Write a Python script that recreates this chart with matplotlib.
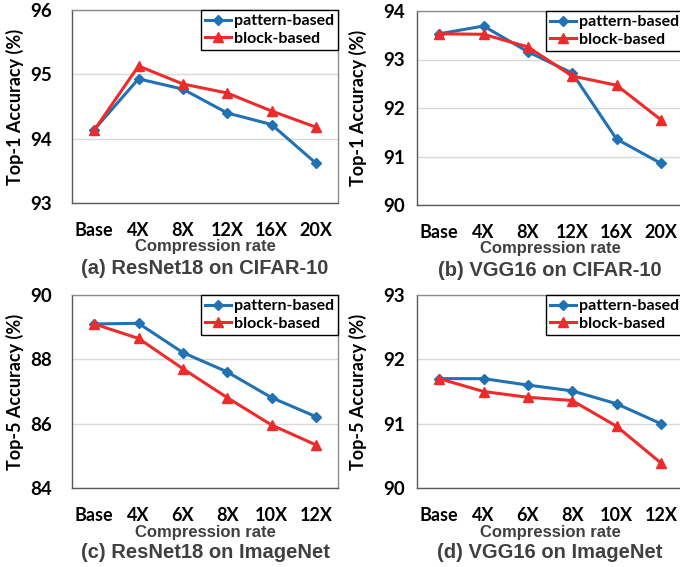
import matplotlib
matplotlib.use("Agg")
import matplotlib.pyplot as plt

W, H = 680, 567

# ---- data ----
cats_cifar = ["Base", "4X", "8X", "12X", "16X", "20X"]
cats_imnet = ["Base", "4X", "6X", "8X", "10X", "12X"]

resnet_cifar_pattern = [94.14, 94.93, 94.77, 94.40, 94.22, 93.62]
resnet_cifar_block = [94.13, 95.13, 94.85, 94.71, 94.43, 94.18]

vgg_cifar_pattern = [93.53, 93.69, 93.16, 92.72, 91.36, 90.86]
vgg_cifar_block = [93.53, 93.52, 93.26, 92.66, 92.47, 91.76]

resnet_imnet_pattern = [89.10, 89.12, 88.21, 87.61, 86.81, 86.22]
resnet_imnet_block = [89.10, 88.65, 87.71, 86.81, 85.96, 85.34]

vgg_imnet_pattern = [91.70, 91.70, 91.60, 91.51, 91.31, 91.00]
vgg_imnet_block = [91.70, 91.50, 91.41, 91.36, 90.96, 90.39]

panels = [
    dict(cats=cats_cifar, p=resnet_cifar_pattern, b=resnet_cifar_block,
         ylim=(93, 96), ticks=[93, 94, 95, 96], ylabel="Top-1 Accuracy (%)",
         title="(a) ResNet18 on CIFAR-10", box=(72, 10, 266, 193), ypad=20, ylx=15),
    dict(cats=cats_cifar, p=vgg_cifar_pattern, b=vgg_cifar_block,
         ylim=(90, 94), ticks=[90, 91, 92, 93, 94], ylabel="Top-1 Accuracy (%)",
         title="(b) VGG16 on CIFAR-10", box=(417, 11, 266, 194), ypad=12, ylx=358),
    dict(cats=cats_imnet, p=resnet_imnet_pattern, b=resnet_imnet_block,
         ylim=(84, 90), ticks=[84, 86, 88, 90], ylabel="Top-5 Accuracy (%)",
         title="(c) ResNet18 on ImageNet", box=(72, 295, 266, 193), ypad=20, ylx=15),
    dict(cats=cats_imnet, p=vgg_imnet_pattern, b=vgg_imnet_block,
         ylim=(90, 93), ticks=[90, 91, 92, 93], ylabel="Top-5 Accuracy (%)",
         title="(d) VGG16 on ImageNet", box=(417, 295, 266, 193), ypad=12, ylx=358),
]

BLUE = "#2171B5"
RED = "#EE2B2B"
DARK = "#404040"
CAL = ["Lato", "DejaVu Sans"]
ARI = ["Liberation Sans", "DejaVu Sans"]
PX = 0.72  # points per pixel at dpi 100

fig = plt.figure(figsize=(W / 100, H / 100), dpi=100)

for pn in panels:
    x0, top, w, h = pn["box"]
    ax = fig.add_axes([x0 / W, (H - top - h) / H, w / W, h / H])
    xs = list(range(len(pn["cats"])))
    ax.plot(xs, pn["p"], color=BLUE, lw=2.2, marker="D", ms=5.5,
            label="pattern-based", zorder=3)
    ax.plot(xs, pn["b"], color=RED, lw=2.2, marker="^", ms=7.5,
            label="block-based", zorder=3)
    ax.set_xlim(-0.5, len(xs) - 0.5)
    ax.set_ylim(*pn["ylim"])
    ax.set_yticks(pn["ticks"])
    ax.set_xticks(xs)
    ax.set_xticklabels(pn["cats"], fontfamily=CAL, fontweight="bold", fontsize=13)
    ax.set_yticklabels([str(t) for t in pn["ticks"]], fontfamily=CAL,
                       fontweight="bold", fontsize=13.5)
    ax.tick_params(axis="x", length=0, pad=14)
    ax.tick_params(axis="y", length=0, pad=pn["ypad"] * PX)
    ax.grid(axis="y", color="#D9D9D9", lw=1.0)
    ax.set_axisbelow(True)
    for s in ["top", "right"]:
        ax.spines[s].set_color("#8C8C8C")
        ax.spines[s].set_linewidth(1.0)
    for s in ["left", "bottom"]:
        ax.spines[s].set_color("#595959")
        ax.spines[s].set_linewidth(1.0)
    ax.annotate("Compression rate", xy=(0.5, 0), xycoords="axes fraction",
                xytext=(0, -44 * PX), textcoords="offset points", ha="center",
                va="center", fontfamily=ARI, fontweight="bold", fontsize=12,
                color=DARK)
    ax.set_ylabel(pn["ylabel"], fontfamily=CAL, fontweight="bold", fontsize=13)
    ax.yaxis.label.set_va("center")
    ax.yaxis.set_label_coords((pn["ylx"] - x0) / w, 0.5)
    ax.annotate(pn["title"], xy=(0.5, 0), xycoords="axes fraction",
                xytext=(0, -65 * PX), textcoords="offset points", ha="center",
                va="center", fontfamily=ARI, fontweight="bold", fontsize=14.5,
                color=DARK)
    leg = ax.legend(loc="upper right", bbox_to_anchor=(1.0, 1.0), frameon=True,
                    fancybox=False, edgecolor="black", framealpha=1,
                    prop=dict(family=CAL, weight="bold", size=11.5),
                    handlelength=1.6, handletextpad=0.2, borderpad=0.25,
                    labelspacing=0.2, borderaxespad=0.0)
    leg.get_frame().set_linewidth(1.0)

fig.savefig("out.png", dpi=100)
